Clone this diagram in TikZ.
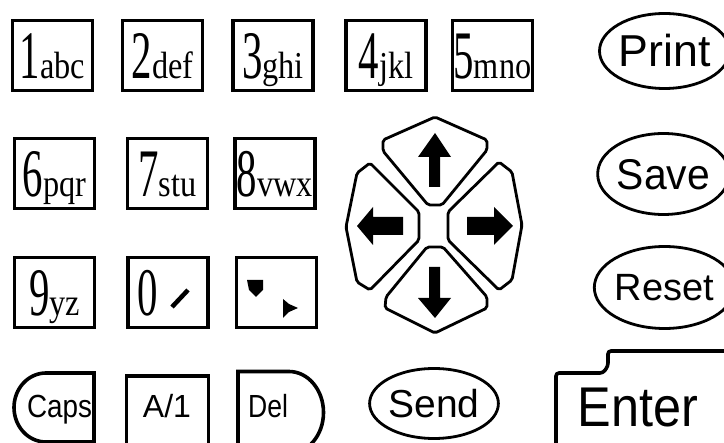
\documentclass[tikz,border=0pt]{standalone}
\usepackage{fontspec}
\usepackage{graphicx}
\setmainfont{Liberation Serif}
\newfontfamily\labfont{Liberation Sans}
\usetikzlibrary{shapes.geometric}
\newcommand\kdig[1]{\scalebox{0.6}[1]{\fontsize{68}{68}\selectfont #1}}
\newcommand\klet[1]{\scalebox{0.85}[1]{\fontsize{38}{38}\selectfont #1}}
\newcommand\lab[3]{\scalebox{#2}[1]{\labfont\fontsize{#1}{#1}\selectfont #3}}
\begin{document}
\begin{tikzpicture}[x=1pt,y=-1pt,
  key/.style={draw, line width=3.6pt, minimum width=80pt, minimum height=70pt,
    inner sep=0pt, text height=46pt, text depth=0pt},
  ovalkey/.style={draw, ellipse, line width=2.8pt, inner sep=0pt, text depth=0pt},
  padkey/.style={draw, line width=2.8pt, rounded corners=2pt, fill=white},
  arrowfill/.style={fill=black},
  edgeline/.style={draw, line width=3.6pt},
  freetext/.style={inner sep=0pt, text depth=0pt}]
\path[use as bounding box] (0,0) rectangle (724,443);
\clip (0,0) rectangle (724,443);
% row 1
\node[key] (k1) at (52.5,55.5) {\kdig{1}\klet{abc}};
\node[key] (k2) at (162.5,55.5) {\kdig{2}\klet{def}};
\node[key] (k3) at (273,55.5) {\kdig{3}\klet{ghi}};
\node[key] (k4) at (386,55.5) {\kdig{4}\klet{jkl}};
\node[key] (k5) at (492.5,55.5) {\kdig{5}\klet{mno}};
% row 2
\node[key] (k6) at (54.5,173.5) {\kdig{6}\klet{pqr}};
\node[key] (k7) at (167.5,173.5) {\kdig{7}\klet{stu}};
\node[key] (k8) at (275,173.5) {\kdig{8}\klet{vwx}};
% row 3
\node[key] (k9) at (54.5,292.5) {\kdig{9}\klet{yz}};
\node[key] (k0) at (168,292.5) {\kdig{0}\hspace*{40pt}};
\node[key] (kdot) at (276.5,292.5) {};
\draw[line width=4.5pt] (172,307) -- (188,290);
\fill (247,280) -- (263,280) -- (263,290) -- (256,297) -- (249,290) -- cycle;
\fill (283,299) -- (289,304) -- (298,308) -- (289,312) -- (283,318) -- cycle;
% right column ovals
\node[ovalkey, minimum width=113pt, minimum height=75pt, text height=32pt] (print) at (664.5,51) {\lab{44.7}{1}{Print}};
\node[ovalkey, minimum width=114pt, minimum height=81pt, text height=31pt] (save) at (663.5,174) {\lab{43}{0.95}{Save}};
\node[ovalkey, minimum width=112pt, minimum height=82pt, text height=27pt] (reset) at (664.5,287.5) {\lab{38}{1}{Reset}};
\node[ovalkey, minimum width=115pt, minimum height=70pt, text height=28pt] (send) at (434,403.5) {\lab{39}{1}{Send}};
% d-pad
\path[padkey] (435,117) -- (487,140) -- (487,150) -- (442,205) -- (428,205) -- (383,151) -- (383,140) -- cycle;
\path[padkey] (435,333) -- (487,308) -- (487,297) -- (443,247) -- (427,247) -- (386,297) -- (385,308) -- cycle;
\path[padkey] (346,227) -- (357,173) -- (370,163) -- (419,212) -- (419,240) -- (370,290) -- (357,282) -- cycle;
\path[padkey] (522,225) -- (512,172) -- (499,162) -- (448,212) -- (448,240) -- (499,290) -- (512,280) -- cycle;
\path[arrowfill] (435,133) -- (451,157) -- (440,157) -- (440,187) -- (429,187) -- (429,157) -- (418,157) -- cycle;
\path[arrowfill] (435,318) -- (451,298) -- (440,298) -- (440,267) -- (429,267) -- (429,298) -- (418,298) -- cycle;
\path[arrowfill] (357,226) -- (373,207) -- (373,217) -- (403,217) -- (403,235) -- (373,235) -- (373,245) -- cycle;
\path[arrowfill] (513,226) -- (494,207) -- (494,217) -- (467,217) -- (467,235) -- (494,235) -- (494,245) -- cycle;
% bottom row
\draw[edgeline] (94,446) -- (94,373) -- (46,373) arc[start angle=270, end angle=90, x radius=32, y radius=34.5] -- (94,442);
\node[freetext, text height=23pt] (caps) at (59.5,406.5) {\lab{32}{0.87}{Caps}};
\node[key, minimum width=82pt, minimum height=70pt, text height=23pt, anchor=north] (a1) at (167.5,374.5) {};
\node[freetext, text height=23pt] (a1t) at (167,406.5) {\lab{32}{1}{A/1}};
\draw[edgeline] (238,450) -- (238,371.5) -- (289,371.5) arc[start angle=270, end angle=450, x radius=34.5, y radius=41] -- (238,453.5);
\node[freetext, text height=23pt] (del) at (268,406.5) {\lab{32}{0.83}{Del}};
\draw[edgeline, rounded corners=3pt] (556,446) -- (556,373) -- (603,373) -- (608,366) -- (608,351) -- (726,351);
\node[freetext, text height=40pt] (enter) at (638,407) {\lab{56}{0.9}{Enter}};
\end{tikzpicture}
\end{document}
